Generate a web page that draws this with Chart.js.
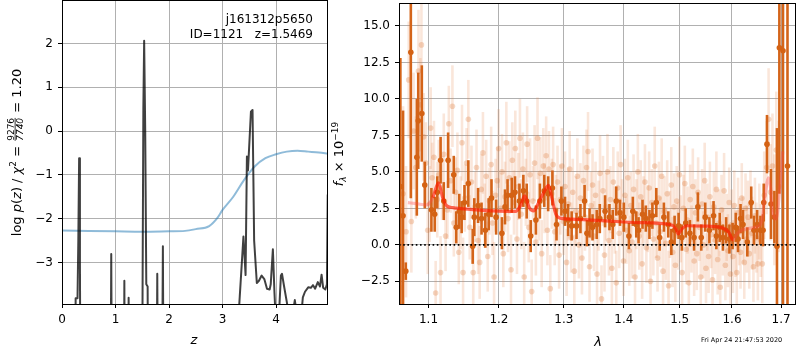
<!DOCTYPE html>
<html>
<head>
<meta charset="utf-8">
<script src="https://cdn.jsdelivr.net/npm/chart.js@4.4.1/dist/chart.umd.min.js"></script>
<style>
  html, body { margin: 0; padding: 0; background: #fff; }
  #wrap { position: relative; width: 800px; height: 350px; }
  #pz { position: absolute; left: 0; top: 0; }
  #sp { position: absolute; left: 320px; top: 0; }
</style>
</head>
<body>
<div id="wrap">
  <canvas id="pz" width="340" height="350"></canvas>
  <canvas id="sp" width="480" height="350"></canvas>
</div>
<script>
// ---- left panel: log p(z) and chi2 curve ----
const zTicks = [0, 1, 2, 3, 4];
const pzTicks = [-3, -2, -1, 0, 1, 2];

const pzZ = [0.00, 0.24, 0.255, 0.29, 0.305, 0.32, 0.335, 0.35, 0.90, 0.92,
  0.94, 1.15, 1.165, 1.18, 1.23, 1.245, 1.26, 1.49, 1.52, 1.535,
  1.555, 1.575, 1.60, 1.615, 1.76, 1.78, 1.80, 1.86, 1.885, 1.905,
  3.30, 3.39, 3.43, 3.455, 3.475, 3.53, 3.56, 3.575, 3.59, 3.64,
  3.68, 3.73, 3.78, 3.83, 3.88, 3.90, 3.94, 3.97, 4.00, 4.05,
  4.09, 4.11, 4.15, 4.20, 4.25, 4.32, 4.35, 4.39, 4.45, 4.50,
  4.54, 4.60, 4.65, 4.69, 4.73, 4.78, 4.82, 4.85, 4.88, 4.92,
  4.95, 4.965];
const pzLog = [-8, -8, -3.82, -3.82, -2.5, -0.62, -3.0, -8, -8, -2.81,
  -8, -8, -3.42, -8, -8, -3.81, -8, -8, 0.5, 2.06,
  0.0, -3.5, -3.55, -8, -8, -3.26, -8, -8, -2.63, -8,
  -4.2, -2.41, -3.29, -0.58, -0.9, 0.44, 0.48, -1.0, -2.5, -3.47,
  -3.42, -3.3, -3.38, -3.6, -3.62, -3.5, -2.70, -3.7, -4.5, -4.3,
  -3.3, -3.26, -3.55, -3.9, -4.3, -4.1, -3.86, -4.2, -4.5, -3.8,
  -3.67, -3.57, -3.58, -3.52, -3.6, -3.45, -3.55, -3.28, -3.58, -3.62,
  -3.5, -1.45];

const chiZ = [0, 0.5, 1, 1.5, 2, 2.3, 2.5, 2.75, 2.9, 3.0,
  3.2, 3.4, 3.6, 3.8, 4.0, 4.2, 4.4, 4.6, 4.8, 4.97];
const chiLog = [-2.27, -2.28, -2.29, -2.30, -2.29, -2.28, -2.24, -2.17, -1.99, -1.80,
  -1.50, -1.12, -0.81, -0.62, -0.53, -0.47, -0.45, -0.47, -0.49, -0.52];

// ---- right panel: spectrum ----
const lamTicks = [1.1, 1.2, 1.3, 1.4, 1.5, 1.6, 1.7];
const fluxTicks = [-2.5, 0, 2.5, 5, 7.5, 10, 12.5, 15];

const lamFaint = [1.0625, 1.0660, 1.0700, 1.0735, 1.0770, 1.0800, 1.0830, 1.0865, 1.0890, 1.0905, 1.0935, 1.0965, 1.0990,
  1.1015, 1.1030, 1.1050, 1.1075, 1.1098, 1.1120, 1.1140, 1.1165, 1.1185, 1.1210,
  1.1235, 1.1260, 1.1280, 1.1305, 1.1330, 1.1350, 1.1375, 1.1400, 1.1420, 1.1445,
  1.1465, 1.1480, 1.1505, 1.1530, 1.1555, 1.1575, 1.1600, 1.1625, 1.1650, 1.1672,
  1.1695, 1.1718, 1.1740, 1.1765, 1.1790, 1.1812, 1.1835, 1.1860, 1.1885, 1.1905,
  1.1928, 1.1950, 1.1975, 1.1995,
  1.2020, 1.2045, 1.2065, 1.2090, 1.2110, 1.2135, 1.2155, 1.2180, 1.2200, 1.2225,
  1.2245, 1.2270, 1.2290, 1.2315, 1.2335, 1.2360, 1.2380, 1.2405, 1.2425, 1.2450,
  1.2470, 1.2495, 1.2515, 1.2540, 1.2560, 1.2585, 1.2605, 1.2630, 1.2650, 1.2675,
  1.2695, 1.2720, 1.2740, 1.2765, 1.2785, 1.2810, 1.2830, 1.2855, 1.2875, 1.2900,
  1.2925, 1.2945, 1.2970,
  1.2995, 1.3020, 1.3045, 1.3070, 1.3095, 1.3120, 1.3145, 1.3170, 1.3195, 1.3220,
  1.3245, 1.3270, 1.3295, 1.3320, 1.3345, 1.3370, 1.3395, 1.3420, 1.3445, 1.3470,
  1.3495, 1.3520, 1.3545, 1.3570, 1.3595, 1.3620, 1.3645, 1.3670, 1.3695, 1.3720,
  1.3745, 1.3770, 1.3795, 1.3820, 1.3845, 1.3870, 1.3895, 1.3920, 1.3945, 1.3970,
  1.3995, 1.4020, 1.4045, 1.4070, 1.4095, 1.4120, 1.4145, 1.4170, 1.4195, 1.4220,
  1.4245, 1.4270, 1.4295, 1.4320, 1.4345, 1.4370, 1.4395, 1.4420, 1.4445, 1.4470,
  1.4495, 1.4520, 1.4545, 1.4570, 1.4595, 1.4620, 1.4645, 1.4670, 1.4695, 1.4720,
  1.4745, 1.4770, 1.4795, 1.4820, 1.4845, 1.4870, 1.4895, 1.4920, 1.4945, 1.4970,
  1.4995, 1.5020, 1.5045, 1.5070, 1.5095, 1.5120, 1.5145, 1.5170, 1.5195, 1.5220,
  1.5245, 1.5270, 1.5295, 1.5320, 1.5345, 1.5370, 1.5395, 1.5420, 1.5445, 1.5470,
  1.5495, 1.5520, 1.5545, 1.5570, 1.5595, 1.5620, 1.5645, 1.5670, 1.5695, 1.5720,
  1.5745, 1.5770, 1.5795, 1.5820, 1.5845, 1.5870, 1.5895, 1.5920, 1.5945, 1.5970,
  1.5995, 1.6020, 1.6045, 1.6070, 1.6095, 1.6120, 1.6145, 1.6170, 1.6195, 1.6220,
  1.6245, 1.6270, 1.6295, 1.6320, 1.6345, 1.6370, 1.6400, 1.6430, 1.6460, 1.6490,
  1.6520, 1.6550, 1.6580, 1.6610, 1.6650, 1.6700, 1.6740, 1.6780, 1.6820, 1.6860,
  1.6900, 1.6950];
const fluxFaint = [-2.9, 3.5, 0.9, 11.3, 1.6, 7.8, 5.3, 11.9, 9.6, 13.7, 7.4, 5.6, 1.0,
  2.8, 8.0, 4.6, 6.0, -3.3, 3.1, 4.8, -1.9, 3.9, 6.2,
  0.6, 2.4, 8.3, 4.4, 9.5, 1.5, 3.6, 5.1, -0.5, 2.2,
  7.0, -1.9, 3.2, 5.6, 8.6, 1.2, 4.3, -1.9, 2.6, 5.3,
  0.3, -1.2, 3.8, 6.3, 2.0, 4.7, -0.8, 3.0, 5.5, 1.5,
  -2.2, 3.4, 4.4, 6.6,
  2.5, 5.0, -0.6, 3.3, 7.0, 1.8, 4.6, -1.7, 5.8, 2.9,
  6.6, 0.4, 4.0, 7.3, 2.1, 5.2, -2.2, 3.6, 6.9, 1.2,
  4.8, -3.2, 3.0, 5.6, 0.2, 7.3, 2.6, 4.9, -0.6, 5.4,
  3.2, 6.1, 1.0, 5.2, -3.0, 3.5, 5.5, 0.9, 2.4, 4.3,
  -0.7, 3.1, 5.4,
  1.6, 4.0, -1.2, 2.8, 5.2, 0.5, 3.6, -1.8, 2.3, 4.7,
  0.0, 3.2, -0.9, 4.4, 1.9, 5.3, 6.4, -1.5, 2.7, 4.1,
  0.6, 3.4, -2.0, 2.0, 4.9, -3.7, 3.7, -0.7, 2.6, 5.0,
  0.3, 3.1, -1.6, 4.3, 1.7, -2.6, 3.9, 0.8, 5.5, 2.2,
  -1.1, 3.4, 1.0, 4.6, -0.4, 2.7, 0.2, 3.8, -2.2, 2.1,
  5.0, 0.6, 3.3, -1.3, 2.4, 4.3, -0.2, 1.8, 3.9, -2.5,
  2.9, 0.4, 5.4, 1.5, -0.9, 3.2, 0.9, 4.7, -1.8, 2.3,
  0.1, 3.5, -2.8, 1.4, 4.1, -0.5, 2.6, -1.4, 3.0, 0.6,
  4.8, 1.1, -1.9, 2.5, 4.2, -0.3, 1.7, -2.6, 3.1, 0.4,
  4.0, -1.1, 2.2, -0.6, 3.6, 1.2, -2.2, 2.8, 0.0, 4.4,
  -1.6, 1.9, -0.8, 3.3, 0.7, -2.4, 2.6, 0.3, 3.8, -1.0,
  1.5, -2.9, 2.4, 0.2, 3.7, -1.4, 1.2, -0.4, 2.9, -2.0,
  1.4, -0.8, 2.7, 0.1, -1.9, 2.2, 0.9, -0.5, 3.2, 1.0,
  -1.2, 2.5, 0.4, 1.9, -0.6, 2.8, 0.8, -1.5, 2.0, 0.5,
  -1.3, 1.6, 0.3, -1.3, 3.4, 5.3, 8.6, 3.6, 5.4, 2.4,
  6.5, 4.0];
const errFaint = [5.5, 6.0, 4.5, 4.0, 3.5, 4.0, 3.5, 4.2, 3.2, 3.8, 3.0, 2.8, 3.0,
  2.6, 2.8, 2.4, 2.5, 2.2, 2.6, 2.4, 2.5, 2.2, 2.8,
  2.4, 2.0, 2.6, 2.2, 2.8, 2.3, 2.4, 2.6, 2.2, 2.5,
  2.6, 2.4, 2.3, 2.4, 2.7, 2.2, 2.5, 2.3, 2.4, 2.6,
  2.3, 2.5, 2.4, 2.8, 2.2, 2.5, 2.4, 2.3, 2.6, 2.2,
  2.4, 2.5, 2.3, 2.7,
  2.4, 2.6, 2.3, 2.4, 2.8, 2.3, 2.5, 2.4, 2.6, 2.2,
  2.6, 2.4, 2.3, 2.7, 2.4, 2.5, 2.4, 2.3, 2.6, 2.4,
  2.5, 2.2, 2.4, 2.6, 2.3, 2.8, 2.3, 2.5, 2.3, 2.6,
  2.4, 2.7, 2.4, 2.6, 2.3, 2.4, 2.6, 2.3, 2.4, 2.5,
  2.3, 2.4, 2.6,
  2.3, 2.4, 2.3, 2.5, 2.6, 2.4, 2.3, 2.5, 2.4, 2.6,
  2.3, 2.4, 2.5, 2.4, 2.3, 2.6, 2.7, 2.4, 2.3, 2.5,
  2.4, 2.3, 2.5, 2.4, 2.6, 2.3, 2.4, 2.5, 2.3, 2.6,
  2.4, 2.3, 2.5, 2.4, 2.3, 2.2, 2.5, 2.4, 2.7, 2.3,
  2.4, 2.5, 2.3, 2.6, 2.4, 2.3, 2.5, 2.4, 2.3, 2.4,
  2.6, 2.3, 2.5, 2.4, 2.3, 2.6, 2.4, 2.3, 2.5, 2.4,
  2.3, 2.5, 2.7, 2.4, 2.3, 2.5, 2.4, 2.6, 2.3, 2.4,
  2.5, 2.3, 2.4, 2.3, 2.6, 2.4, 2.3, 2.5, 2.4, 2.3,
  2.6, 2.3, 2.4, 2.3, 2.6, 2.4, 2.3, 2.5, 2.4, 2.3,
  2.6, 2.4, 2.3, 2.5, 2.4, 2.3, 2.5, 2.4, 2.3, 2.6,
  2.4, 2.3, 2.5, 2.4, 2.3, 2.5, 2.4, 2.3, 2.6, 2.4,
  2.3, 2.5, 2.4, 2.3, 2.6, 2.4, 2.3, 2.5, 2.4, 2.3,
  2.4, 2.5, 2.4, 2.3, 2.5, 2.4, 2.3, 2.5, 2.4, 2.3,
  2.5, 2.4, 2.3, 2.5, 2.4, 2.3, 2.5, 2.4, 2.6, 2.4,
  2.5, 2.6, 2.5, 2.7, 3.0, 3.2, 3.5, 3.3, 3.6, 3.8,
  4.0, 4.5];

const lamBin = [1.0625, 1.0660, 1.0696, 1.0763, 1.0843, 1.0862, 1.0910, 1.0950, 1.1040, 1.1085,
  1.1120, 1.1166, 1.1210, 1.1270, 1.1349, 1.1384, 1.1426, 1.1460, 1.1500, 1.1555,
  1.1617, 1.1640, 1.1695, 1.1745, 1.1800, 1.1849, 1.1890, 1.1958, 1.2044, 1.2090,
  1.2128, 1.2191, 1.2240, 1.2307, 1.2367, 1.2418, 1.2480, 1.2560, 1.2622, 1.2690,
  1.2752, 1.2819, 1.2884, 1.2962, 1.3020, 1.3070, 1.3127, 1.3206, 1.3270, 1.3338,
  1.3377, 1.3420, 1.3470, 1.3540, 1.3591, 1.3680, 1.3754, 1.3810, 1.3870, 1.3934,
  1.4000, 1.4088, 1.4157, 1.4216, 1.4257, 1.4327, 1.4386, 1.4450, 1.4503, 1.4573,
  1.4633, 1.4710, 1.4790, 1.4846, 1.4906, 1.4980, 1.5040, 1.5112, 1.5190, 1.5269,
  1.5340, 1.5405, 1.5480, 1.5560, 1.5640, 1.5694, 1.5760, 1.5822, 1.5885, 1.5950,
  1.6012, 1.6075, 1.6120, 1.6170, 1.6220, 1.6306, 1.6385, 1.6440, 1.6505, 1.6572,
  1.6626, 1.6640, 1.6707, 1.6790, 1.6860, 1.6914, 1.6964, 1.7040, 1.7135];
const fluxBin = [4.0, 2.0, -1.8, 13.2, 6.0, 8.5, 9.0, 4.1, 2.4, 2.1,
  3.6, 5.8, 3.0, 5.8, 4.8, 1.2, 2.3, 1.9, 2.9, 4.2,
  -0.1, 1.9, 2.7, 1.8, 1.0, 2.1, 3.2, 1.9, 0.8, 2.6,
  3.4, 3.4, 3.6, 3.0, 3.7, 3.0, 0.6, 1.7, 3.0, 3.7,
  3.5, 3.9, 1.4, 3.0, 2.3, 1.7, 1.3, 1.3, 1.8, 3.0,
  0.8, 1.5, 1.2, 1.4, 1.8, 2.3, 1.9, 1.4, 3.0, 2.2,
  1.9, 0.6, 2.3, 1.4, 1.0, 2.1, 1.8, 1.4, 2.0, 2.9,
  0.5, 1.9, 1.4, 0.2, 1.0, 1.3, 0.5, 1.5, 0.8, 0.5,
  2.6, 0.5, 1.9, 1.0, 2.0, 0.6, 1.2, 0.5, 1.0, 0.4,
  0.6, 1.2, 0.4, 1.8, 1.4, 0.2, 2.9, 1.0, 1.4, 1.0,
  1.0, 2.9, 6.9, 2.8, 1.9, -0.1, 13.5, 13.3, 5.4];
const errBin = [8.8, 7.2, 0.6, 10.0, 4.0, 3.3, 3.3, 1.6, 1.5, 1.2,
  1.1, 1.6, 1.3, 1.9, 1.3, 1.1, 1.2, 1.1, 1.2, 1.6,
  1.2, 1.3, 1.2, 1.1, 1.2, 1.1, 1.3, 1.2, 1.1, 1.2,
  1.1, 1.2, 1.1, 1.2, 1.1, 1.2, 1.1, 1.0, 1.2, 1.1,
  1.2, 1.2, 1.1, 1.0, 1.0, 1.1, 1.0, 0.9, 1.0, 1.1,
  0.9, 1.0, 0.9, 1.0, 1.0, 1.1, 0.9, 1.0, 1.0, 0.9,
  1.0, 0.9, 1.0, 0.9, 0.9, 1.0, 0.9, 1.0, 0.9, 1.0,
  0.9, 1.0, 0.9, 0.9, 1.0, 0.9, 0.9, 1.0, 0.9, 0.9,
  1.0, 0.9, 1.0, 0.9, 1.0, 0.9, 1.0, 0.9, 0.9, 1.0,
  0.9, 1.0, 0.9, 1.0, 1.0, 1.0, 1.1, 1.0, 1.0, 1.0,
  1.1, 1.3, 2.0, 2.4, 1.8, 8.1, 10.0, 17.5, 12.0];

const lamModel = [1.0724, 1.0836, 1.0977, 1.1058, 1.1136, 1.1195, 1.1250, 1.1333, 1.1617, 1.2000,
  1.2247, 1.2322, 1.2387, 1.2458, 1.2524, 1.2601, 1.2694, 1.2757, 1.2809, 1.2873,
  1.2942, 1.3127, 1.3675, 1.4245, 1.4839, 1.4930, 1.4973, 1.5040, 1.5130, 1.5457,
  1.5776, 1.5938, 1.6021, 1.6098, 1.6230, 1.6500, 1.6600, 1.6660, 1.6740, 1.6780,
  1.6820, 1.6886, 1.6920, 1.6999, 1.7034];
const fluxModel = [2.89, 2.82, 2.73, 3.23, 4.25, 3.23, 2.68, 2.55, 2.42, 2.31,
  2.29, 2.67, 3.35, 2.55, 2.33, 2.89, 3.68, 4.07, 3.23, 2.10,
  1.83, 1.76, 1.65, 1.53, 1.38, 1.09, 0.75, 1.09, 1.31, 1.29,
  1.20, 0.86, 0.34, 0.75, 1.06, 1.24, 1.65, 3.23, 4.59, 3.91,
  2.33, 1.76, 2.10, 4.82, 6.40];

const lamRange = [1.0607, 1.7316];
const fluxRange = [-4.05, 16.5];
const zRange = [0, 4.97];
const pzRange = [-3.95, 2.97];

// ---- helpers ----
Chart.defaults.font.family = "'DejaVu Sans'";
Chart.defaults.font.size = 12;
Chart.defaults.color = '#000';

const pts = (xs, ys) => xs.map((x, i) => ({ x: x, y: ys[i] }));
const minus = v => (String(v).charAt(0) === '-' ? '\u2212' + String(v).slice(1) : String(v));

// fixed axis sizes, no extra padding for the end labels
function fixX(h) {
  return s => { s.height = h; s.paddingLeft = 0; s.paddingRight = 0; };
}
function fixY(w) {
  return s => { s.width = w; s.paddingTop = 0; s.paddingBottom = 0; };
}

function axis(extra, fmt) {
  return Object.assign({
    grid: { color: '#b0b0b0', lineWidth: 1, tickLength: 4, tickColor: '#000', drawTicks: true },
    border: { display: false },
    ticks: { autoSkip: false, maxRotation: 0, padding: 5, color: '#000', font: { size: 12 }, callback: fmt }
  }, extra);
}

function frame(ctx, a) {
  ctx.save();
  ctx.strokeStyle = '#000';
  ctx.lineWidth = 1;
  ctx.strokeRect(Math.round(a.left) + 0.5, Math.round(a.top) - 0.5,
    Math.round(a.right - a.left) - 1, Math.round(a.bottom - a.top) + 1);
  ctx.restore();
}

// rich text turned 90 degrees, read bottom to top
function drawVertical(ctx, parts, bx, cy) {
  ctx.save();
  ctx.fillStyle = '#000';
  ctx.textBaseline = 'alphabetic';
  const widths = parts.map(p => {
    if (p.num) {
      ctx.font = p.f; const w1 = ctx.measureText(p.num).width;
      ctx.font = p.fd; const w2 = ctx.measureText(p.den).width;
      return Math.max(w1, w2) + 2;
    }
    ctx.font = p.f;
    return ctx.measureText(p.t).width;
  });
  const W = widths.reduce((s, w) => s + w, 0);
  ctx.translate(bx, cy);
  ctx.rotate(-Math.PI / 2);
  let u = -W / 2;
  parts.forEach((p, i) => {
    const w = widths[i];
    if (p.num) {
      ctx.textAlign = 'center';
      ctx.font = p.f; ctx.fillText(p.num, u + w / 2, -7.5);
      ctx.font = p.fd; ctx.fillText(p.den, u + w / 2, 1.5);
      ctx.fillRect(u + 1, -6.3, w - 2, 0.8);
    } else {
      ctx.textAlign = 'left';
      ctx.font = p.f; ctx.fillText(p.t, u, p.dv || 0);
    }
    u += w;
  });
  ctx.restore();
}

const R = '12px "DejaVu Sans"', I = 'italic 12px "DejaVu Sans"';
const RL = '13px "DejaVu Sans"', IL = 'italic 13px "DejaVu Sans"';
const RS = '9px "DejaVu Sans"', IS = 'italic 9px "DejaVu Sans"';

const pzLabel = [
  { t: 'log ', f: RL }, { t: 'p', f: IL }, { t: '(', f: RL }, { t: 'z', f: IL }, { t: ')', f: RL },
  { t: ' / ', f: RL }, { t: '\u03c7', f: IL }, { t: '2', f: RS, dv: -5.5 }, { t: ' = ', f: RL },
  { num: '9276', den: '7740', f: RS, fd: IS }, { t: ' = 1.20', f: RL }
];
const fluxLabel = [
  { t: 'f', f: IL }, { t: '\u03bb', f: IS, dv: 3 }, { t: ' \u00d7 10', f: RL }, { t: '\u221219', f: RS, dv: -5.5 }
];

// error bars drawn under each dataset's markers, through the chart scales
const errorBars = {
  id: 'errorBars',
  beforeDatasetDraw(chart, args) {
    const ds = chart.data.datasets[args.index];
    if (!ds.errors) return;
    const ctx = chart.ctx, a = chart.chartArea, xs = chart.scales.x, ys = chart.scales.y;
    ctx.save();
    ctx.beginPath();
    ctx.rect(a.left, a.top, a.right - a.left, a.bottom - a.top);
    ctx.clip();
    ctx.strokeStyle = ds.errorColor;
    ctx.lineWidth = ds.errorWidth;
    ds.data.forEach((p, i) => {
      const px = xs.getPixelForValue(p.x);
      ctx.beginPath();
      ctx.moveTo(px, ys.getPixelForValue(p.y - ds.errors[i]));
      ctx.lineTo(px, ys.getPixelForValue(p.y + ds.errors[i]));
      ctx.stroke();
    });
    ctx.restore();
  }
};

// ---- left chart ----
new Chart(document.getElementById('pz'), {
  type: 'scatter',
  data: {
    datasets: [
      { data: pts(pzZ, pzLog), showLine: true, borderColor: 'rgba(0,0,0,0.75)', borderWidth: 2,
        borderJoinStyle: 'round', pointRadius: 0, clip: 0, order: 0 },
      { data: pts(chiZ, chiLog), showLine: true, borderColor: 'rgba(31,119,180,0.5)', borderWidth: 2,
        cubicInterpolationMode: 'monotone', pointRadius: 0, clip: 0, order: 1 }
    ]
  },
  options: {
    responsive: false, animation: false, events: [],
    layout: { padding: { top: 1, right: 12, left: 0, bottom: 0 } },
    plugins: { legend: { display: false }, tooltip: { enabled: false } },
    scales: {
      x: axis({ type: 'linear', min: zRange[0], max: zRange[1],
        afterBuildTicks: s => { s.ticks = zTicks.map(v => ({ value: v })); },
        afterFit: fixX(46) }, v => minus(v)),
      y: axis({ type: 'linear', min: pzRange[0], max: pzRange[1],
        afterBuildTicks: s => { s.ticks = pzTicks.map(v => ({ value: v })); },
        afterFit: fixY(62) }, v => minus(v))
    }
  },
  plugins: [{
    id: 'pzText',
    afterDraw(chart) {
      const ctx = chart.ctx, a = chart.chartArea;
      frame(ctx, a);
      ctx.save();
      ctx.fillStyle = '#000';
      ctx.textBaseline = 'alphabetic';
      ctx.textAlign = 'right';
      ctx.font = R;
      ctx.fillText('j161312p5650', 313, 23);
      ctx.fillText('ID=1121   z=1.5469', 313, 38);
      ctx.textAlign = 'center';
      ctx.font = IL;
      ctx.fillText('z', 194, 344);
      ctx.restore();
      drawVertical(ctx, pzLabel, 21, (a.top + a.bottom) / 2);
    }
  }]
});

// ---- right chart ----
const light = 'rgba(255,70,70,0.35)', strong = 'rgba(255,25,0,0.65)';
new Chart(document.getElementById('sp'), {
  type: 'scatter',
  data: {
    datasets: [
      { data: pts(lamRange, [0, 0]), showLine: true, borderColor: '#000', borderWidth: 1.6,
        borderDash: [1.6, 2.6], pointRadius: 0, clip: 0, order: 0 },
      { data: pts(lamModel, fluxModel), showLine: true, borderWidth: 3.2, pointRadius: 0,
        cubicInterpolationMode: 'monotone', clip: 0, order: 1, borderColor: strong,
        segment: { borderColor: c => (c.p0.parsed.x < 1.1 || c.p1.parsed.x > 1.605 ? light : strong) } },
      { data: pts(lamBin, fluxBin), errors: errBin, errorColor: 'rgb(212,100,25)', errorWidth: 2.6,
        pointRadius: 2.8, pointBorderWidth: 0, backgroundColor: 'rgb(212,98,20)', clip: 0, order: 2 },
      { data: pts(lamFaint, fluxFaint), errors: errFaint, errorColor: 'rgba(230,130,70,0.2)', errorWidth: 2.6,
        pointRadius: 2.8, pointBorderWidth: 0, backgroundColor: 'rgba(220,115,45,0.28)', clip: 0, order: 3 }
    ]
  },
  options: {
    responsive: false, animation: false, events: [],
    layout: { padding: { top: 1, right: 1, left: 0, bottom: 0 } },
    plugins: { legend: { display: false }, tooltip: { enabled: false } },
    scales: {
      x: axis({ type: 'logarithmic', min: lamRange[0], max: lamRange[1],
        afterBuildTicks: s => { s.ticks = lamTicks.map(v => ({ value: v })); },
        afterFit: fixX(46) }, v => v.toFixed(1)),
      y: axis({ type: 'linear', min: fluxRange[0], max: fluxRange[1],
        afterBuildTicks: s => { s.ticks = fluxTicks.map(v => ({ value: v })); },
        afterFit: fixY(79) }, v => minus(v.toFixed(1)))
    }
  },
  plugins: [errorBars, {
    id: 'spText',
    afterDraw(chart) {
      const ctx = chart.ctx, a = chart.chartArea;
      frame(ctx, a);
      ctx.save();
      ctx.fillStyle = '#000';
      ctx.textBaseline = 'alphabetic';
      ctx.textAlign = 'center';
      ctx.font = IL;
      ctx.fillText('\u03bb', 278, 346);
      ctx.textAlign = 'left';
      ctx.font = '6.5px "DejaVu Sans"';
      ctx.fillText('Fri Apr 24 21:47:53 2020', 381, 342);
      ctx.restore();
      drawVertical(ctx, fluxLabel, 23, (a.top + a.bottom) / 2);
    }
  }]
});
</script>
</body>
</html>
